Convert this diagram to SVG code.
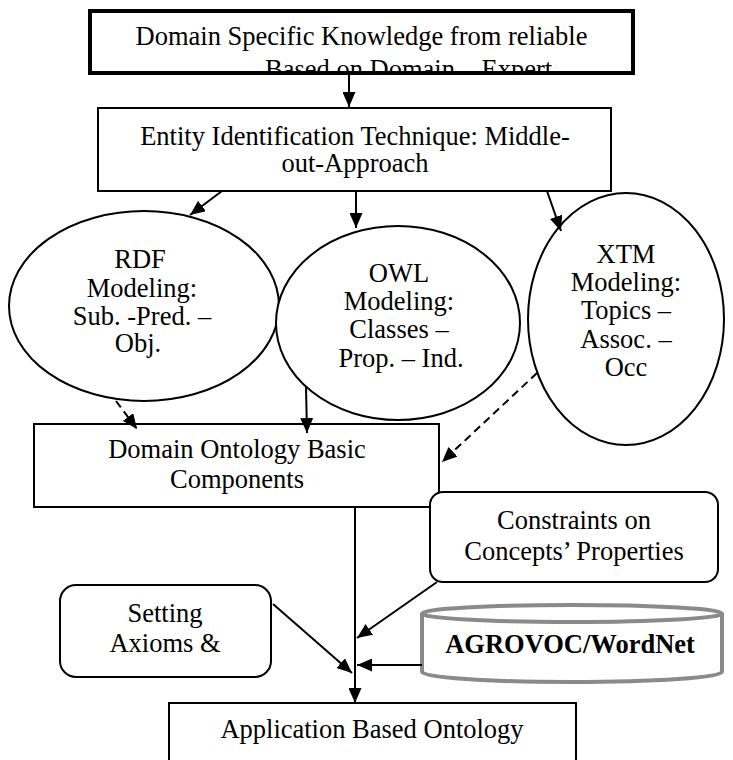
<svg xmlns="http://www.w3.org/2000/svg" width="733" height="760" viewBox="0 0 733 760">
<style>
text{font-family:"Liberation Serif","Times New Roman",serif;font-size:26.5px;fill:#000;text-anchor:middle}
.box{fill:#fff;stroke:#000;stroke-width:2}
.ell{fill:#fff;stroke:#000;stroke-width:2}
.c{stroke:#000;stroke-width:2;fill:none}
.d{stroke-dasharray:8 5}
.cyl{fill:#fff;stroke:#8a8a8a;stroke-width:4}
</style>
<defs>
<marker id="ah" markerWidth="15" markerHeight="13" refX="15" refY="6.5" orient="auto" markerUnits="userSpaceOnUse"><path d="M0,0 L15,6.5 L0,13 z" fill="#000"/></marker>
<clipPath id="topclip"><rect x="92" y="13" width="539" height="58"/></clipPath>
</defs>
<g id="n-top">
<rect x="90" y="11" width="543" height="62" fill="#fff" stroke="#000" stroke-width="4"/>
<text x="361.5" y="45">Domain Specific Knowledge from reliable</text>
<g clip-path="url(#topclip)"><text x="265" y="78" style="text-anchor:start">Based on Domain <tspan dx="20">Expert</tspan></text></g>
</g>
<g id="n-entity">
<rect class="box" x="98" y="108" width="513" height="83"/>
<text x="355" y="145">Entity Identification Technique: Middle-</text>
<text x="355" y="172">out-Approach</text>
</g>
<g id="n-rdf">
<ellipse class="ell" cx="144" cy="306" rx="135" ry="95"/>
<text x="140" y="268">RDF</text>
<text x="142" y="297">Modeling:</text>
<text x="142" y="325">Sub. -Pred. –</text>
<text x="138" y="352">Obj.</text>
</g>
<g id="n-owl">
<ellipse class="ell" cx="398" cy="323" rx="122" ry="97"/>
<text x="399" y="282">OWL</text>
<text x="399" y="310">Modeling:</text>
<text x="399" y="338">Classes –</text>
<text x="401" y="367">Prop. – Ind.</text>
</g>
<g id="n-xtm">
<ellipse class="ell" cx="626" cy="319" rx="98" ry="126"/>
<text x="626" y="263">XTM</text>
<text x="626" y="291">Modeling:</text>
<text x="626" y="319">Topics –</text>
<text x="626" y="348">Assoc. –</text>
<text x="626" y="376">Occ</text>
</g>
<g id="n-domain">
<rect class="box" x="34" y="424" width="405" height="83"/>
<text x="237" y="458">Domain Ontology Basic</text>
<text x="237" y="488">Components</text>
</g>
<g id="n-constraints">
<rect class="box" x="430" y="492" width="288" height="90" rx="13"/>
<text x="574" y="529">Constraints on</text>
<text x="574" y="560">Concepts’ Properties</text>
</g>
<g id="n-axioms">
<rect class="box" x="60" y="585" width="211" height="92" rx="16"/>
<text x="165" y="622">Setting</text>
<text x="165" y="652">Axioms &amp;</text>
</g>
<g id="n-agrovoc">
<path class="cyl" d="M422,613 L422,672 A150,10 0 0 0 722,672 L722,613"/>
<ellipse class="cyl" cx="572" cy="613.5" rx="150" ry="8.5"/>
<text x="570" y="653" font-weight="bold">AGROVOC/WordNet</text>
</g>
<g id="n-app">
<rect class="box" x="169" y="703" width="407" height="70"/>
<text x="372" y="738">Application Based Ontology</text>
</g>
<g id="connectors">
<line class="c" x1="349" y1="75" x2="349" y2="107" stroke-width="3.5" marker-end="url(#ah)"/>
<line class="c" x1="222" y1="191" x2="190" y2="215" marker-end="url(#ah)"/>
<line class="c" x1="356" y1="191" x2="356" y2="228" marker-end="url(#ah)"/>
<line class="c" x1="547" y1="191" x2="561" y2="231" marker-end="url(#ah)"/>
<line class="c d" x1="116" y1="401" x2="137" y2="429" marker-end="url(#ah)"/>
<line class="c" x1="306" y1="387" x2="307" y2="433" marker-end="url(#ah)"/>
<line class="c d" x1="537" y1="373" x2="442" y2="462" marker-end="url(#ah)"/>
<line class="c" x1="355" y1="507" x2="355" y2="703" marker-end="url(#ah)"/>
<line class="c" x1="437" y1="582" x2="357" y2="638" marker-end="url(#ah)"/>
<line class="c" x1="273" y1="604" x2="352" y2="673" marker-end="url(#ah)"/>
<line class="c" x1="422" y1="665" x2="357" y2="665" marker-end="url(#ah)"/>
</g>
</svg>
